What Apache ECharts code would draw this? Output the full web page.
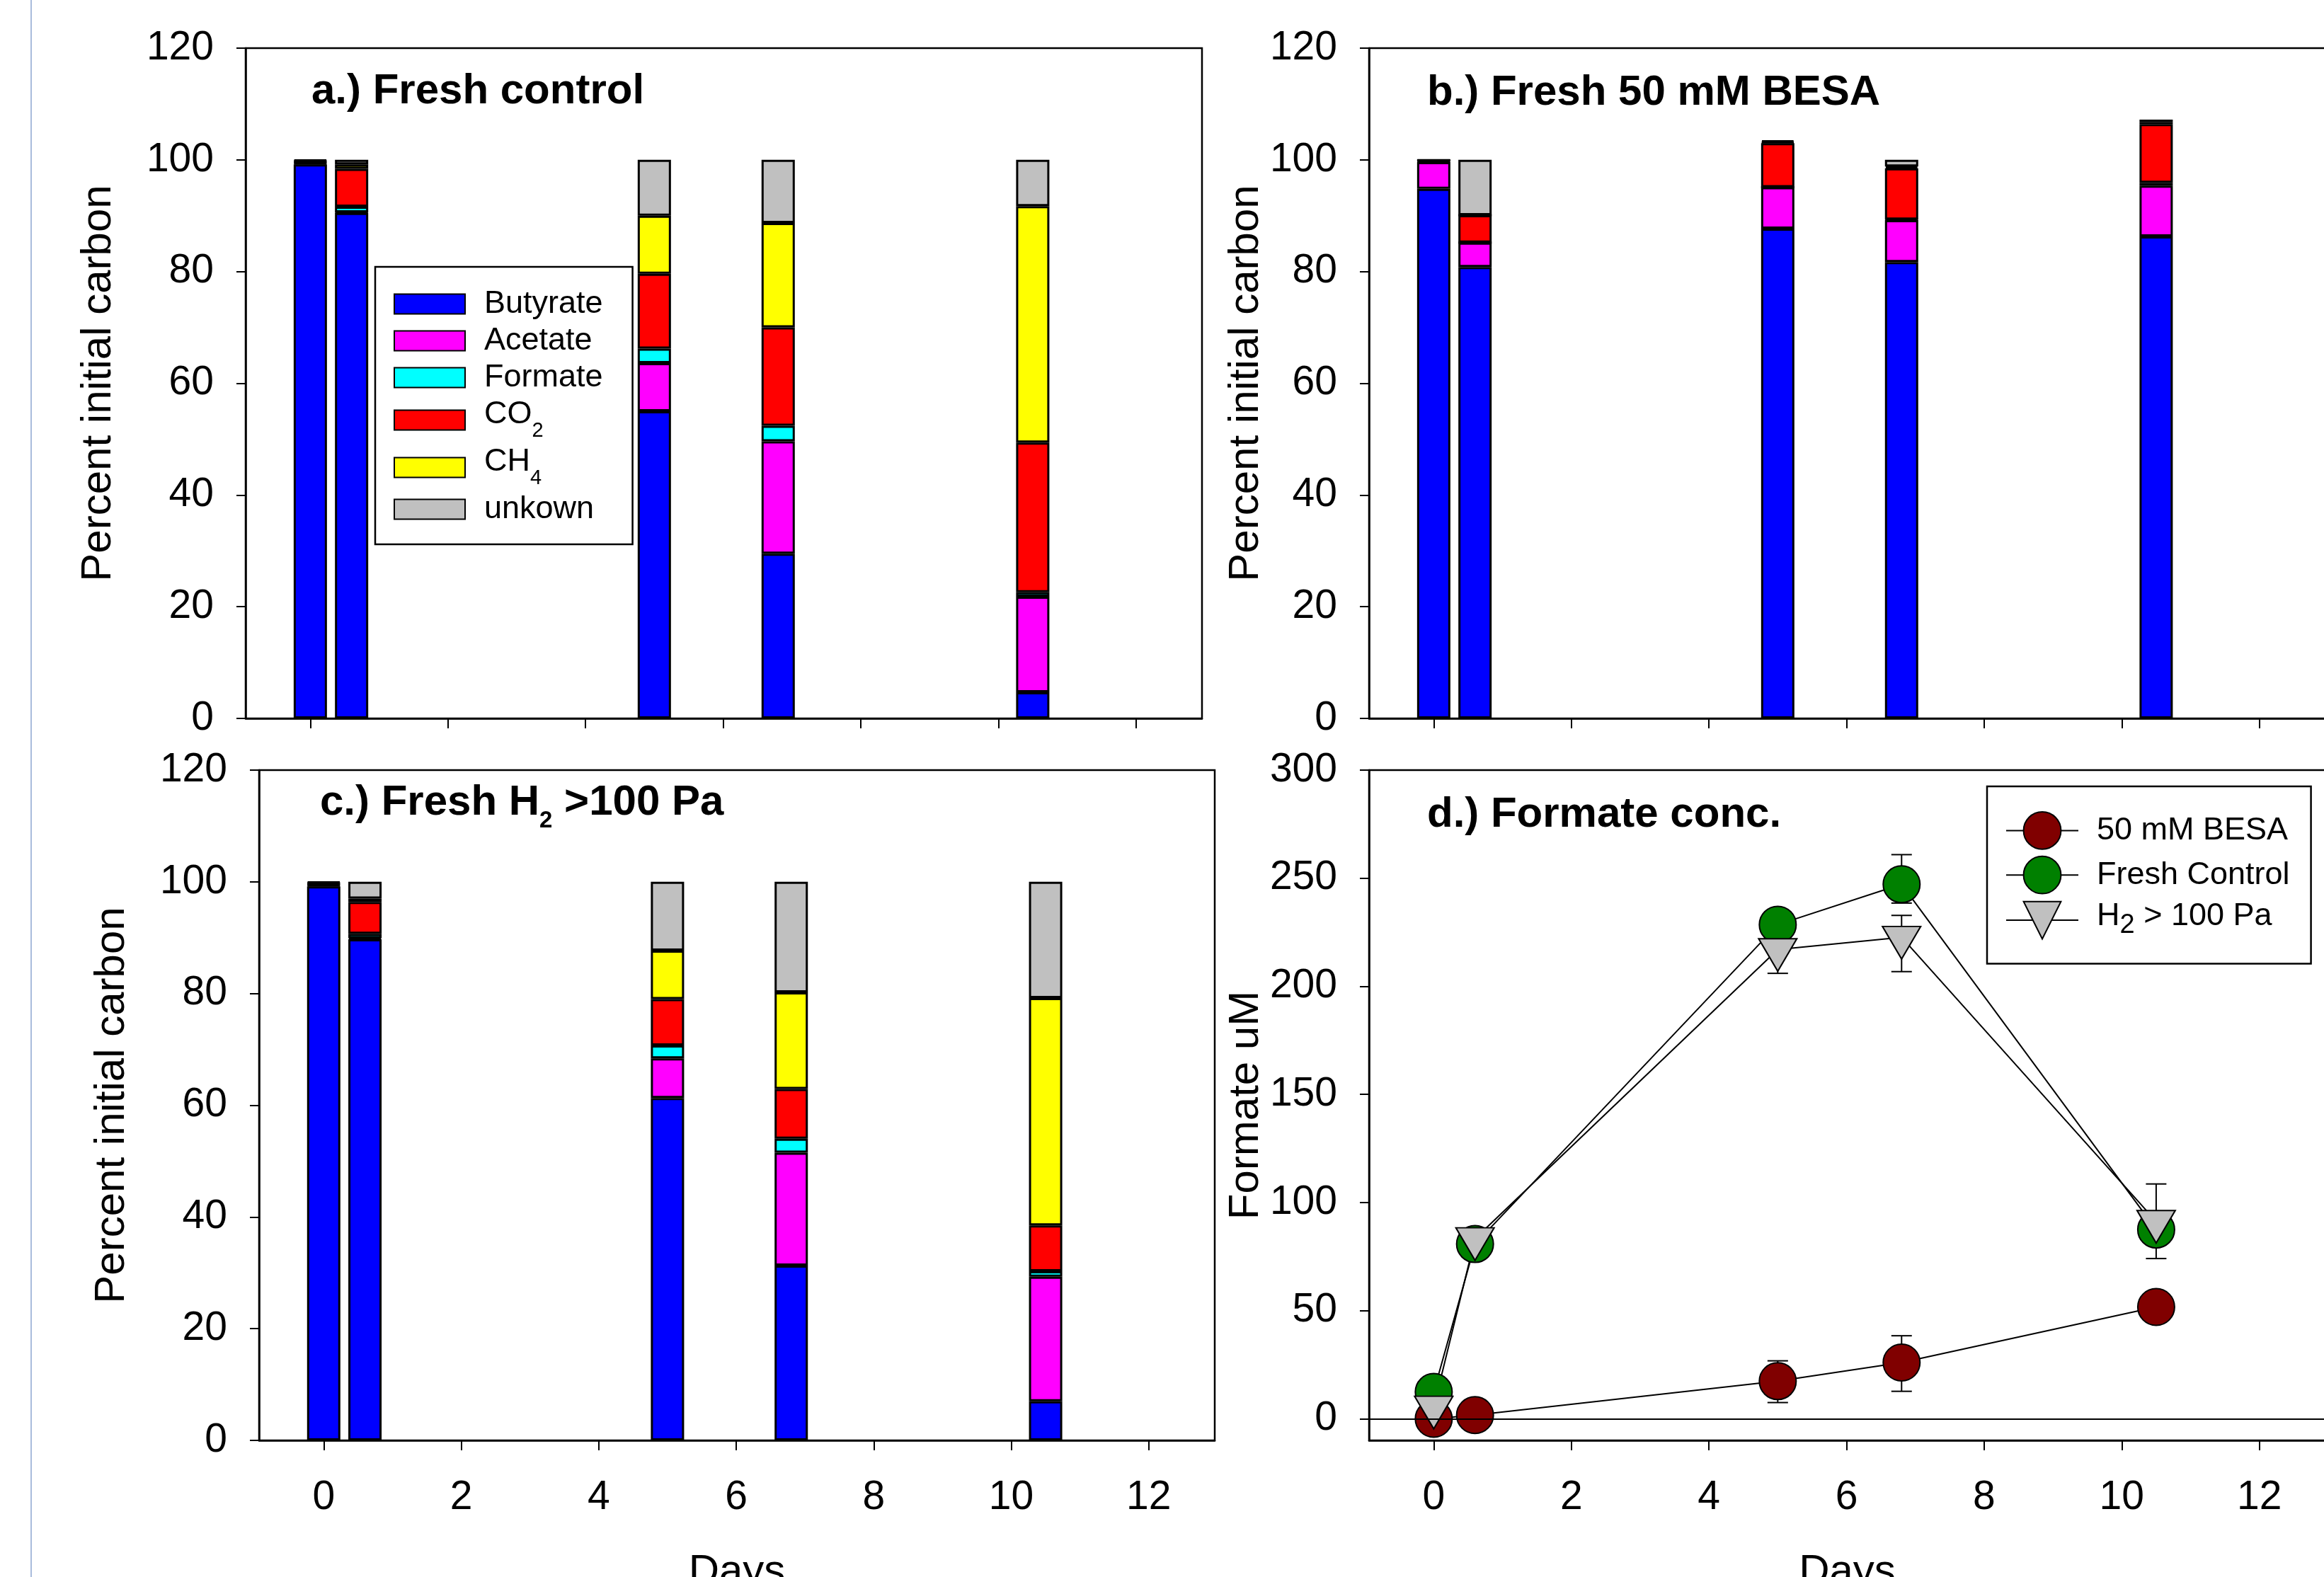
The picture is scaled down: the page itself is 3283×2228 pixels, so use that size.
<!DOCTYPE html>
<html>
<head>
<meta charset="utf-8">
<script src="https://cdn.jsdelivr.net/npm/echarts@6/dist/echarts.min.js"></script>
<style>
  html, body { margin: 0; padding: 0; background: #fff; }
  #main { width: 3283px; height: 2228px; }
</style>
</head>
<body>
<div id="main"></div>
<script>
// sampling days, shared by every panel
var days = [0, 0.6, 5, 6.8, 10.5];
var dayTicks = [0, 2, 4, 6, 8, 10, 12];
var percentTicks = [0, 20, 40, 60, 80, 100, 120];
var formateTicks = [0, 50, 100, 150, 200, 250, 300];

var components = ['Butyrate', 'Acetate', 'Formate', 'CO2', 'CH4', 'unkown'];
var componentColors = ['#0000ff', '#ff00ff', '#00ffff', '#ff0000', '#ffff00', '#c0c0c0'];

// a.) Fresh control - percent initial carbon
var ctlButyrate = [99.2, 90.5, 55.0, 29.5, 4.7];
var ctlAcetate  = [0.2, 0.1, 8.6, 20.1, 17.1];
var ctlFormate  = [0.1, 1.0, 2.6, 2.8, 0.8];
var ctlCO2      = [0.2, 6.8, 13.4, 17.6, 26.8];
var ctlCH4      = [0.1, 0.8, 10.4, 18.7, 42.3];
var ctlUnknown  = [0.2, 0.8, 10.0, 11.3, 8.3];

// b.) Fresh 50 mM BESA
var besaButyrate = [94.8, 80.8, 87.7, 81.7, 86.3];
var besaAcetate  = [4.8, 4.4, 7.4, 7.5, 9.1];
var besaFormate  = [0.1, 0, 0, 0.1, 0.5];
var besaCO2      = [0.2, 4.9, 7.9, 9.2, 10.5];
var besaCH4      = [0, 0, 0.2, 0.3, 0.4];
var besaUnknown  = [0.1, 9.9, 0.3, 1.2, 0.4];

// c.) Fresh H2 >100 Pa
var h2Butyrate = [99.2, 89.7, 61.3, 31.3, 7.0];
var h2Acetate  = [0.2, 0.2, 7.1, 20.2, 22.3];
var h2Formate  = [0.1, 0.8, 2.3, 2.5, 1.0];
var h2CO2      = [0.2, 5.7, 8.3, 8.9, 8.2];
var h2CH4      = [0.1, 0.6, 8.7, 17.3, 40.7];
var h2Unknown  = [0.2, 3.0, 12.3, 19.8, 20.8];

// d.) Formate conc. (uM), error bars as low / high ends
var concBesa    = [0.0, 1.7, 17.4, 26.0, 51.7];
var besaErrLow  = [null, null, 7.5, 12.7, null];
var besaErrHigh = [null, null, 26.8, 38.4, null];
var concControl    = [12.4, 80.8, 228.5, 247.2, 87.5];
var controlErrLow  = [null, null, null, 238.5, null];
var controlErrHigh = [null, null, null, 260.9, null];
var concH2    = [5.4, 83.3, 217.0, 222.7, 91.3];
var h2ErrLow  = [0.0, null, 206.0, 206.8, 74.1];
var h2ErrHigh = [10.8, null, 228.2, 232.8, 108.6];

var FONT = 'Liberation Sans, Arial, Helvetica, sans-serif';

var chart = echarts.init(document.getElementById('main'));

function grid(left, top, width) {
  return {
    left: left, top: top, width: width, height: 947,
    show: true, borderColor: '#000', borderWidth: 2.5,
    backgroundColor: 'transparent', outerBoundsMode: 'none'
  };
}

function xAxis(idx, showLabels) {
  var ax = {
    type: 'value', gridIndex: idx, min: -0.94, max: 12.96,
    axisLine: { show: true, onZero: false, lineStyle: { color: '#000', width: 2.5 } },
    axisTick: { show: true, inside: false, length: 14, customValues: dayTicks,
                lineStyle: { color: '#000', width: 2 } },
    axisLabel: { show: showLabels, customValues: dayTicks, margin: 53,
                 fontSize: 57, color: '#000', fontFamily: FONT },
    splitLine: { show: false }
  };
  if (showLabels) {
    ax.name = 'Days';
    ax.nameLocation = 'middle';
    ax.nameGap = 156;
    ax.nameTextStyle = { fontSize: 60, color: '#000', fontFamily: FONT };
  }
  return ax;
}

function yAxis(idx, name, gap, min, max, ticks) {
  return {
    type: 'value', gridIndex: idx, min: min, max: max,
    name: name, nameLocation: 'middle', nameGap: gap,
    nameTextStyle: { fontSize: 60, color: '#000', fontFamily: FONT },
    axisLine: { show: true, onZero: false, lineStyle: { color: '#000', width: 2.5 } },
    axisTick: { show: true, inside: false, length: 13, customValues: ticks,
                lineStyle: { color: '#000', width: 2 } },
    axisLabel: { customValues: ticks, margin: 45, fontSize: 57, color: '#000', fontFamily: FONT,
                 padding: [4, 0, 0, 0] },
    splitLine: { show: false }
  };
}

// value first, day second: the value column is then the stacked one
function stackedBars(idx, stack, columns) {
  return components.map(function (name, k) {
    return {
      name: name, type: 'bar', stack: stack,
      xAxisIndex: idx, yAxisIndex: idx,
      barWidth: 47,
      encode: { x: 1, y: 0 },
      itemStyle: { color: componentColors[k], borderColor: '#000', borderWidth: 3 },
      data: days.map(function (d, i) { return [columns[k][i], d]; })
    };
  });
}

function errorBars(low, high) {
  var out = [];
  days.forEach(function (d, i) {
    if (low[i] != null) out.push([d, low[i], high[i]]);
  });
  return {
    type: 'custom', xAxisIndex: 3, yAxisIndex: 3,
    encode: { x: 0, y: [1, 2] },
    data: out,
    renderItem: function (params, api) {
      var top = api.coord([api.value(0), api.value(2)]);
      var bot = api.coord([api.value(0), api.value(1)]);
      var hw = 14.5;
      var st = { stroke: '#000', lineWidth: 2 };
      return {
        type: 'group',
        children: [
          { type: 'line', shape: { x1: top[0], y1: top[1], x2: bot[0], y2: bot[1] }, style: st },
          { type: 'line', shape: { x1: top[0] - hw, y1: top[1], x2: top[0] + hw, y2: top[1] }, style: st },
          { type: 'line', shape: { x1: bot[0] - hw, y1: bot[1], x2: bot[0] + hw, y2: bot[1] }, style: st }
        ]
      };
    }
  };
}

function formateLine(name, values, color, symbol, size, offset) {
  return {
    name: name, type: 'line', xAxisIndex: 3, yAxisIndex: 3,
    symbol: symbol, symbolSize: size, symbolOffset: offset || [0, 0],
    showAllSymbol: true,
    lineStyle: { color: '#000', width: 2 },
    itemStyle: { color: color, borderColor: '#000', borderWidth: 2 },
    data: days.map(function (d, i) { return [d, values[i]]; })
  };
}

var triangleDown = 'path://M0,0L60,0L30,52Z';

var series = []
  .concat(stackedBars(0, 'a', [ctlButyrate, ctlAcetate, ctlFormate, ctlCO2, ctlCH4, ctlUnknown]))
  .concat(stackedBars(1, 'b', [besaButyrate, besaAcetate, besaFormate, besaCO2, besaCH4, besaUnknown]))
  .concat(stackedBars(2, 'c', [h2Butyrate, h2Acetate, h2Formate, h2CO2, h2CH4, h2Unknown]));

var besaLine = formateLine('50 mM BESA', concBesa, '#800000', 'circle', 52);
besaLine.markLine = {
  silent: true, symbol: ['none', 'none'], label: { show: false },
  lineStyle: { color: '#000', width: 2, type: 'solid' },
  data: [{ yAxis: 0 }]
};
series.push(errorBars(besaErrLow, besaErrHigh));
series.push(besaLine);
series.push(errorBars(controlErrLow, controlErrHigh));
series.push(formateLine('Fresh Control', concControl, '#008000', 'circle', 52));
series.push(errorBars(h2ErrLow, h2ErrHigh));
series.push(formateLine('H2 > 100 Pa', concH2, '#c0c0c0', triangleDown, [54, 46], [0, 7.7]));

var barLegendText = { CO2: '{mu|CO}{s|2}', CH4: '{mu|CH}{s|4}' };
var lineLegendText = { 'H2 > 100 Pa': '{mu|H}{s|2}{n| > 100 Pa}' };

var option = {
  animation: false,
  backgroundColor: '#fff',
  textStyle: { fontFamily: FONT },
  grid: [grid(347, 68, 1351), grid(1934, 68, 1351), grid(366, 1088, 1350), grid(1934, 1088, 1351)],
  xAxis: [xAxis(0, false), xAxis(1, false), xAxis(2, true), xAxis(3, true)],
  yAxis: [
    yAxis(0, 'Percent initial carbon', 178, 0, 120, percentTicks),
    yAxis(1, 'Percent initial carbon', 144, 0, 120, percentTicks),
    yAxis(2, 'Percent initial carbon', 178, 0, 120, percentTicks),
    yAxis(3, 'Formate uM', 144, -10, 300, formateTicks)
  ],
  legend: [
    {
      data: components, orient: 'vertical', left: 530, top: 377, icon: 'rect',
      padding: [30, 42, 27, 26], itemWidth: 100, itemHeight: 28, itemGap: 7,
      borderColor: '#000', borderWidth: 2.5, backgroundColor: '#fff',
      selectedMode: false,
      formatter: function (name) { return barLegendText[name] || '{m|' + name + '}'; },
      textStyle: {
        color: '#000', fontFamily: FONT, fontSize: 45,
        rich: {
          m: { fontSize: 45, padding: [3, 0, 3, 22], fontFamily: FONT, color: '#000' },
          mu: { fontSize: 45, padding: [0, 0, 16, 22], fontFamily: FONT, color: '#000' },
          s: { fontSize: 29, padding: [30, 0, 0, 0], fontFamily: FONT, color: '#000' }
        }
      }
    },
    {
      data: ['50 mM BESA', 'Fresh Control', 'H2 > 100 Pa'], orient: 'vertical',
      left: 2807, top: 1111, padding: [35, 30, 34, 26],
      itemWidth: 102, itemHeight: 66, itemGap: 8,
      borderColor: '#000', borderWidth: 2.5, backgroundColor: '#fff',
      selectedMode: false,
      formatter: function (name) { return lineLegendText[name] || '{m|' + name + '}'; },
      textStyle: {
        color: '#000', fontFamily: FONT, fontSize: 45,
        rich: {
          m: { fontSize: 45, padding: [0, 0, 0, 21], fontFamily: FONT, color: '#000' },
          mu: { fontSize: 45, padding: [0, 0, 12, 21], fontFamily: FONT, color: '#000' },
          s: { fontSize: 38, padding: [14, 0, 0, 0], fontFamily: FONT, color: '#000' },
          n: { fontSize: 45, padding: [0, 0, 12, 0], fontFamily: FONT, color: '#000' }
        }
      }
    }
  ],
  graphic: [
    { type: 'line', shape: { x1: 44, y1: 0, x2: 44, y2: 2228 }, style: { stroke: '#a9bcdc', lineWidth: 2 } },
    { type: 'text', x: 440, y: 129, style: { text: 'a.) Fresh control', fontSize: 60, fontWeight: 'bold',
      fontFamily: FONT, fill: '#000', verticalAlign: 'middle' } },
    { type: 'text', x: 2016, y: 131, style: { text: 'b.) Fresh 50 mM BESA', fontSize: 60, fontWeight: 'bold',
      fontFamily: FONT, fill: '#000', verticalAlign: 'middle' } },
    { type: 'text', x: 452, y: 1134, style: {
      text: '{t|c.) Fresh H}{s|2}{t| >100 Pa}', fontFamily: FONT, fill: '#000', verticalAlign: 'middle',
      rich: {
        t: { fontSize: 60, fontWeight: 'bold', fontFamily: FONT, fill: '#000' },
        s: { fontSize: 33, fontWeight: 'bold', fontFamily: FONT, fill: '#000', padding: [52, 0, 0, 0] }
      } } },
    { type: 'text', x: 2016, y: 1151, style: { text: 'd.) Formate conc.', fontSize: 60, fontWeight: 'bold',
      fontFamily: FONT, fill: '#000', verticalAlign: 'middle' } }
  ],
  series: series
};

chart.setOption(option);
</script>
</body>
</html>
